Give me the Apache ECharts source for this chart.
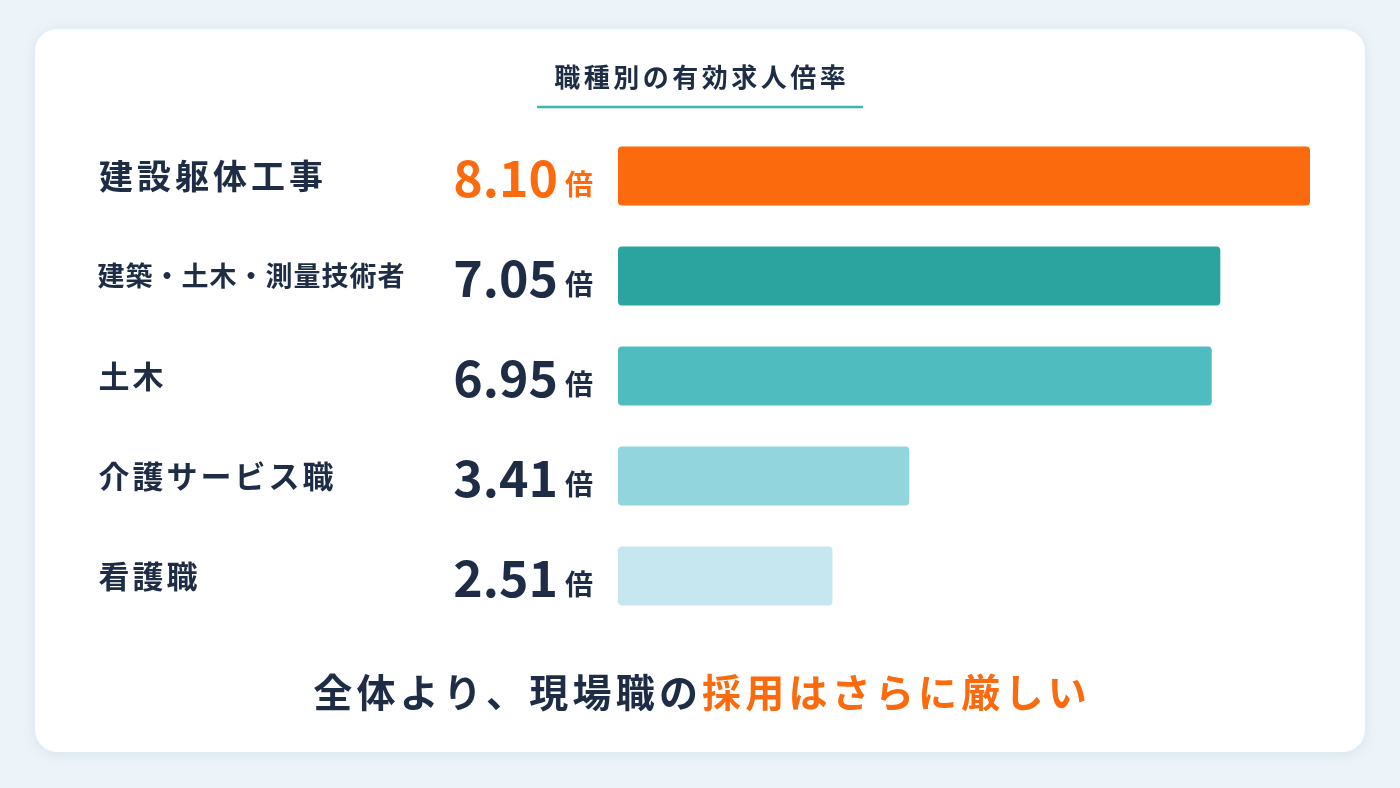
<!DOCTYPE html>
<html>
<head>
<meta charset="utf-8">
<script src="https://cdn.jsdelivr.net/npm/echarts@6/dist/echarts.min.js"></script>
<style>
  html, body { margin: 0; padding: 0; background: #edf4f9; }
  #chart { width: 1400px; height: 788px; }
</style>
</head>
<body>
<div id="chart"></div>
<script>
// データ
var categories = ['建設躯体工事', '建築・土木・測量技術者', '土木', '介護サービス職', '看護職'];
var ratios = [8.10, 7.05, 6.95, 3.41, 2.51];
var barColors = ['#fb6a0c', '#2ba39f', '#4fbcbf', '#93d5dd', '#c6e7ef'];
var titleText = '職種別の有効求人倍率';
var footerPlain = '全体より、現場職の';
var footerAccent = '採用はさらに厳しい';

var NAVY = '#1e2d45';
var ORANGE = '#fb6a0c';
var FONT = '"Noto Sans CJK JP", "Noto Sans", sans-serif';

// 1文字ずつ固定幅の rich トークンにして字間をつくる
function spaced(str, key) {
    return str.split('').map(function (c) { return '{' + key + '|' + c + '}'; }).join('');
}

function charStyle(size, width, color) {
    return { fontSize: size, width: width, align: 'center', fontWeight: 'bold', color: color, fontFamily: FONT };
}

function valueStyle(color) {
    return { fontSize: 50, fontWeight: 'bold', color: color, fontFamily: FONT, lineHeight: 54, verticalAlign: 'bottom' };
}
function unitStyle(color) {
    return { fontSize: 28, fontWeight: 'bold', color: color, fontFamily: FONT, padding: [0, 0, 5, 7], lineHeight: 40, verticalAlign: 'bottom' };
}

var chart = echarts.init(document.getElementById('chart'));

var option = {
    backgroundColor: '#edf4f9',
    graphic: [
        {
            type: 'rect', z: -10,
            shape: { x: 35, y: 29, width: 1330, height: 723, r: 22 },
            style: { fill: '#ffffff', shadowBlur: 14, shadowColor: 'rgba(120,150,180,0.18)', shadowOffsetY: 2 }
        },
        {
            type: 'line', z: -5,
            shape: { x1: 537, y1: 107, x2: 863, y2: 107 },
            style: { stroke: '#3bb5ae', lineWidth: 2.5 }
        }
    ],
    title: [
        {
            text: spaced(titleText, 't'),
            left: 'center', top: 59,
            textStyle: { rich: { t: charStyle(26, 29.5, NAVY) } }
        },
        {
            text: spaced(footerPlain, 'f') + spaced(footerAccent, 'o'),
            left: 'center', top: 668,
            textStyle: { rich: { f: charStyle(39, 43.2, NAVY), o: charStyle(39, 43.2, ORANGE) } }
        }
    ],
    grid: { left: 618, right: 90, top: 126, bottom: 162 },
    xAxis: { type: 'value', min: 0, max: 8.1, show: false },
    yAxis: [
        {
            type: 'category', data: categories, inverse: true, position: 'left',
            axisLine: { show: false }, axisTick: { show: false },
            axisLabel: {
                align: 'left', margin: 521,
                formatter: function (v, i) {
                    if (i === 0) return spaced(v, 'n1');
                    if (i === 1) return spaced(v, 'n2');
                    return spaced(v, 'n');
                },
                rich: {
                    n1: charStyle(34, 38, NAVY),
                    n2: charStyle(27, 28, NAVY),
                    n: charStyle(31, 34, NAVY)
                }
            }
        },
        {
            type: 'category', data: categories, inverse: true, position: 'left',
            axisLine: { show: false }, axisTick: { show: false },
            axisLabel: {
                align: 'right', margin: 25,
                formatter: function (v, i) {
                    var k = i === 0 ? 'a' : 'b';
                    return '{' + k + 'v|' + ratios[i].toFixed(2) + '}{' + k + 'u|倍}';
                },
                rich: {
                    av: valueStyle(ORANGE),
                    au: unitStyle(ORANGE),
                    bv: valueStyle(NAVY),
                    bu: unitStyle(NAVY)
                }
            }
        }
    ],
    series: [
        {
            type: 'bar',
            yAxisIndex: 0,
            barWidth: 59,
            data: ratios.map(function (v, i) {
                return { value: v, itemStyle: { color: barColors[i], borderRadius: 4 } };
            }),
            silent: true
        }
    ]
};

chart.setOption(option);
</script>
</body>
</html>
